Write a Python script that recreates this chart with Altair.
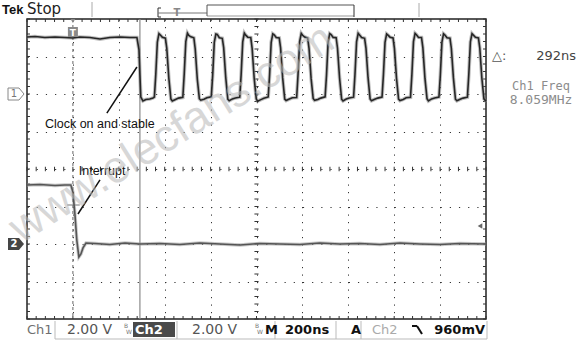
import altair as alt
import pandas as pd

# ---------------- scope settings ----------------
NS_PER_DIV = 200          # M 200ns
V_PER_DIV = 2.0           # Ch1 2.00 V, Ch2 2.00 V
X_DOMAIN = [-200, 1800]   # trigger at t = 0, one division from the left
Y_DOMAIN = [-4, 4]        # 8 vertical divisions
CH1_POS = 2               # Ch1 ground marker (divisions)
CH2_POS = -2              # Ch2 ground marker (divisions)
cursor_t = [292]          # cursor, delta 292 ns
trigger_t = [0]
trigger_level_v = 0.96    # 960 mV on Ch2

# ---------------- Ch1: clock (time ns, volts) ----------------
ch1_t = [
    -200, -165, -122, -78, -35, 0, 30, 74, 118, 161, 205, 248, 279, 288, 292, 296, 305, 318, 335, 349,
    355, 361, 368, 375, 381, 390, 403, 409, 418, 427, 433, 447, 460,
    479, 485, 492, 499, 505, 514, 527, 533, 542, 551, 557, 571, 584,
    603, 609, 616, 623, 629, 638, 651, 657, 666, 675, 681, 695, 708,
    727, 733, 740, 747, 753, 762, 775, 781, 790, 799, 805, 819, 832,
    851, 857, 864, 871, 877, 886, 899, 905, 914, 923, 929, 943, 956,
    975, 981, 988, 995, 1001, 1010, 1023, 1029, 1038, 1047, 1053, 1067, 1080,
    1099, 1105, 1112, 1119, 1125, 1134, 1147, 1153, 1162, 1171, 1177, 1191, 1204,
    1223, 1229, 1236, 1243, 1249, 1258, 1271, 1277, 1286, 1295, 1301, 1315, 1328,
    1347, 1353, 1360, 1367, 1373, 1382, 1395, 1401, 1410, 1419, 1425, 1439, 1452,
    1471, 1477, 1484, 1491, 1497, 1506, 1519, 1525, 1534, 1543, 1549, 1563, 1576,
    1595, 1601, 1608, 1615, 1621, 1630, 1643, 1649, 1658, 1667, 1673, 1687, 1700,
    1719, 1725, 1732, 1739, 1745, 1754, 1767, 1773, 1782, 1791, 1797, 1800,
]
ch1_v = [
    3.04, 3.07, 3.01, 3.04, 3.01, 2.99, 3.04, 3.01, 2.93, 3.01, 3.04, 3.01, 3.01, 2.35, 1.01, -0.16, -0.37, -0.29, -0.27, -0.21,
    -0.16, 1.01, 2.77, 3.22, 3.15, 3.02, 2.98, 2.45, 0.85, -0.27, -0.37, -0.29, -0.22,
    -0.18, 1.05, 2.80, 3.24, 3.12, 3.05, 3.00, 2.40, 0.80, -0.25, -0.33, -0.28, -0.20,
    -0.15, 0.98, 2.75, 3.20, 3.18, 3.00, 2.97, 2.47, 0.88, -0.28, -0.36, -0.26, -0.21,
    -0.17, 1.02, 2.78, 3.25, 3.14, 3.03, 3.01, 2.43, 0.83, -0.26, -0.38, -0.30, -0.23,
    -0.16, 1.00, 2.76, 3.21, 3.16, 3.01, 2.99, 2.46, 0.86, -0.27, -0.35, -0.27, -0.20,
    -0.19, 1.04, 2.79, 3.23, 3.13, 3.04, 2.98, 2.42, 0.82, -0.24, -0.34, -0.29, -0.22,
    -0.15, 0.99, 2.77, 3.22, 3.17, 3.02, 3.00, 2.44, 0.84, -0.28, -0.37, -0.27, -0.21,
    -0.17, 1.03, 2.78, 3.24, 3.15, 3.01, 2.97, 2.45, 0.87, -0.26, -0.36, -0.28, -0.22,
    -0.16, 1.01, 2.76, 3.20, 3.14, 3.03, 2.99, 2.43, 0.85, -0.27, -0.35, -0.29, -0.20,
    -0.18, 1.02, 2.79, 3.23, 3.16, 3.02, 3.01, 2.46, 0.83, -0.25, -0.37, -0.26, -0.21,
    -0.16, 1.00, 2.77, 3.21, 3.15, 3.00, 2.98, 2.44, 0.86, -0.28, -0.36, -0.28, -0.22,
    -0.17, 1.03, 2.78, 3.22, 3.14, 3.02, 2.99, 2.45, 0.84, -0.26, -0.35, -0.32,
]

# ---------------- Ch2: interrupt (time ns, volts) ----------------
ch2_t = [-200, -144, -78, -35, -9, 0, 9, 17, 26, 35, 44, 57, 96, 161, 227, 292, 379, 466,
         553, 640, 728, 815, 902, 989, 1076, 1163, 1250, 1338, 1425, 1512, 1599, 1686, 1800]
ch2_v = [3.15, 3.17, 3.12, 3.15, 3.15, 2.77, 1.55, 0.21, -0.69, -0.53, -0.21, 0.05, 0.03, -0.03, 0.05, 0.00, 0.03, -0.03,
         0.05, 0.00, -0.05, 0.03, 0.00, -0.03, 0.05, 0.00, 0.03, -0.03, 0.05, 0.00, -0.03, 0.03, 0.00]

# annotations (data coordinates: ns, divisions)
note_t = [-122, 26]
note_d = [1.09, -0.16]
note_text = ["Clock on and stable", "Interrupt"]
arrow_t = [148, 22]
arrow_t2 = [279, 118]
arrow_d = [1.49, -1.20]
arrow_d2 = [2.72, -0.29]

# ---------------- tables ----------------
ch1 = pd.DataFrame({"t": ch1_t, "v": ch1_v})
ch1["d"] = CH1_POS + ch1["v"] / V_PER_DIV
ch2 = pd.DataFrame({"t": ch2_t, "v": ch2_v})
ch2["d"] = CH2_POS + ch2["v"] / V_PER_DIV

grid_x = [X_DOMAIN[0] + NS_PER_DIV * k for k in range(1, 10)]
grid_y = [-3, -2, -1, 0, 1, 2, 3]
minor_x = [X_DOMAIN[0] + NS_PER_DIV * 0.2 * i for i in range(51)]
minor_y = [round(-4 + 0.2 * i, 2) for i in range(41)]

rows = []
for x in minor_x:
    rows += [(x, x, 4, 3.92), (x, x, -4, -3.92), (x, x, -0.06, 0.06)]
for y in minor_y:
    rows += [(-200, -187, y, y), (1800, 1787, y, y), (791, 809, y, y)]
ticks = pd.DataFrame(rows, columns=["t", "t2", "d", "d2"])

xs = alt.Scale(domain=X_DOMAIN, nice=False, zero=False)
ys = alt.Scale(domain=Y_DOMAIN, nice=False, zero=False)
x_axis = alt.Axis(values=grid_x, grid=True, gridDash=[1.2, 6.3], gridColor="#333333", gridWidth=1,
                  ticks=False, labels=False, domain=False, title=None)
y_axis = alt.Axis(values=grid_y, grid=True, gridDash=[1.2, 7.98], gridColor="#333333", gridWidth=1,
                  ticks=False, labels=False, domain=False, title=None)


def X(f):
    return alt.X(f + ":Q", scale=xs, axis=x_axis)


def Y(f):
    return alt.Y(f + ":Q", scale=ys, axis=y_axis)


one = pd.DataFrame({"k": [0]})


def ui_text(txt, x, y, size=13, color="#222", weight="normal", font="DejaVu Sans", align="left",
            baseline="alphabetic"):
    return alt.Chart(one).mark_text(text=txt, fontSize=size, color=color, fontWeight=weight, font=font,
                                    align=align, baseline=baseline).encode(x=alt.value(x), y=alt.value(y))


def ui_rule(x1, y1, x2, y2, color="#666", w=1.0):
    return alt.Chart(one).mark_rule(color=color, strokeWidth=w).encode(
        x=alt.value(x1), y=alt.value(y1), x2=alt.value(x2), y2=alt.value(y2))


def ui_rect(x1, y1, x2, y2, fill):
    return alt.Chart(one).mark_rect(color=fill).encode(
        x=alt.value(x1), y=alt.value(y1), x2=alt.value(x2), y2=alt.value(y2))


layers = []

# graticule ticks
layers.append(alt.Chart(ticks).mark_rule(color="#333333", strokeWidth=1).encode(
    x=X("t"), x2="t2", y=Y("d"), y2="d2"))

# trigger (dashed) and cursor lines
layers.append(alt.Chart(pd.DataFrame({"t": trigger_t})).mark_rule(
    color="#666666", strokeDash=[3, 3], strokeWidth=1).encode(x=X("t")))
layers.append(alt.Chart(pd.DataFrame({"t": cursor_t})).mark_rule(
    color="#8a8a8a", strokeWidth=1.2).encode(x=X("t")))

# trigger cross on Ch2
layers.append(alt.Chart(pd.DataFrame({"t": [-25], "t2": [30], "d": [-0.96]})).mark_rule(
    color="#777777", strokeWidth=1).encode(x=X("t"), x2="t2", y=Y("d")))

# traces
layers.append(alt.Chart(ch2).mark_line(color="#9a9a9a", strokeWidth=3.4, opacity=0.55).encode(x=X("t"), y=Y("d")))
layers.append(alt.Chart(ch2).mark_line(color="#555555", strokeWidth=1.6).encode(x=X("t"), y=Y("d")))
layers.append(alt.Chart(ch1).mark_line(color="#8a8a8a", strokeWidth=3.6, opacity=0.55).encode(x=X("t"), y=Y("d")))
layers.append(alt.Chart(ch1).mark_line(color="#262626", strokeWidth=1.6).encode(x=X("t"), y=Y("d")))

# annotations
notes = pd.DataFrame({"t": note_t, "d": note_d, "label": note_text})
layers.append(alt.Chart(notes).mark_text(align="left", baseline="alphabetic", font="Liberation Sans",
                                         fontSize=12.5, color="#111111").encode(x=X("t"), y=Y("d"), text="label:N"))
arrows = pd.DataFrame({"t": arrow_t, "t2": arrow_t2, "d": arrow_d, "d2": arrow_d2})
layers.append(alt.Chart(arrows).mark_rule(color="#111111", strokeWidth=1.5).encode(
    x=X("t"), x2="t2", y=Y("d"), y2="d2"))

# channel ground markers (pentagon flags left of the graticule)
H = 0.16  # half height of the flag in divisions (6 px)
ch1_flag = pd.DataFrame({
    "x1": [-19, -19, -19, -8, -8], "x2": [-8, -8, -19, -3, -3],
    "d": [CH1_POS + H, CH1_POS - H, CH1_POS - H, CH1_POS + H, CH1_POS - H],
    "d2": [CH1_POS + H, CH1_POS - H, CH1_POS + H, CH1_POS, CH1_POS],
})
for i in range(len(ch1_flag)):
    r = ch1_flag.iloc[[i]]
    layers.append(alt.Chart(r).mark_rule(color="#888888", strokeWidth=1).encode(
        x=alt.value(float(r["x1"].iloc[0])), x2=alt.value(float(r["x2"].iloc[0])), y=Y("d"), y2="d2"))
layers.append(alt.Chart(pd.DataFrame({"d": [CH1_POS]})).mark_text(
    text="1", fontSize=10, color="#777777", font="DejaVu Sans", baseline="middle", align="center").encode(
    x=alt.value(-13), y=Y("d")))

layers.append(alt.Chart(pd.DataFrame({"d": [CH2_POS + H], "d2": [CH2_POS - H]})).mark_rect(
    color="#454545").encode(x=alt.value(-19), x2=alt.value(-8), y=Y("d"), y2="d2"))
layers.append(alt.Chart(pd.DataFrame({"d": [CH2_POS]})).mark_point(
    shape="M-0.42,-1L0.42,0L-0.42,1Z", size=144, filled=True, color="#454545", opacity=1).encode(
    x=alt.value(-5.5), y=Y("d")))
layers.append(alt.Chart(pd.DataFrame({"d": [CH2_POS]})).mark_text(
    text="2", fontSize=10, color="white", fontWeight="bold", font="DejaVu Sans", baseline="middle",
    align="center").encode(x=alt.value(-13), y=Y("d")))

# trigger level arrow on the right
layers.append(alt.Chart(pd.DataFrame({"d": [CH2_POS + trigger_level_v / V_PER_DIV]})).mark_point(
    shape="triangle-left", size=28, filled=True, color="#666666", opacity=1).encode(x=alt.value(453), y=Y("d")))

# trigger position "T" marker at the top
layers.append(alt.Chart(pd.DataFrame({"t": trigger_t})).mark_point(
    shape="triangle-down", size=22, filled=True, color="#8a8a8a", opacity=1).encode(x=X("t"), y=alt.value(2)))
layers.append(alt.Chart(pd.DataFrame({"t": trigger_t})).mark_point(
    shape="square", size=100, filled=True, color="#8a8a8a", opacity=1).encode(x=X("t"), y=alt.value(13)))
layers.append(alt.Chart(pd.DataFrame({"t": trigger_t})).mark_text(
    text="T", fontSize=9, fontWeight="bold", color="white", baseline="middle", font="DejaVu Sans").encode(
    x=X("t"), y=alt.value(13.5)))

# watermark
layers.append(alt.Chart(pd.DataFrame({"t": [430], "d": [0.95]})).mark_text(
    text="www.elecfans.com", font="Liberation Sans", fontSize=45, angle=328, color="#b8b8b8", opacity=0.55,
    align="center", baseline="middle").encode(x=X("t"), y=Y("d")))

# ---- top status bar ----
layers.append(ui_text("Tek", -25, -5, size=13, weight="bold", font="Liberation Sans", color="#111"))
layers.append(ui_text("Stop", 0, -5, size=15, color="#222"))
layers.append(ui_rule(65, -17, 65, -2, color="#aaaaaa"))
layers.append(ui_rule(131, -11, 131, -2, color="#333333"))
layers.append(ui_rule(131, -11, 134, -11, color="#333333"))
layers.append(ui_rule(131, -2, 134, -2, color="#333333"))
layers.append(ui_rule(131, -6, 180, -6, color="#777777"))
layers.append(ui_rule(180, -14, 327, -14, color="#555555"))
layers.append(ui_rule(180, -3, 327, -3, color="#999999"))
layers.append(ui_rule(180, -14, 180, -3, color="#555555"))
layers.append(ui_rule(327, -14, 327, -2, color="#333333"))
layers.append(ui_rule(392, -16, 392, -2, color="#aaaaaa"))
layers.append(ui_text("T", 150, -3, size=10, weight="bold", color="#888888", align="center"))

# ---- right readouts ----
layers.append(ui_text("\u25b3:", 465, 41, size=13, color="#555555"))
layers.append(ui_text("292ns", 549, 41, size=13, color="#444444", align="right"))
layers.append(ui_text("Ch1 Freq", 514, 71, size=12, color="#8c8c8c", font="DejaVu Sans Mono", align="center"))
layers.append(ui_text("8.059MHz", 514, 85, size=13, color="#8c8c8c", font="DejaVu Sans Mono", align="center"))

# ---- bottom status bar ----
for xv in [28, 150, 248, 309, 334, 460]:
    layers.append(ui_rule(xv, 302, xv, 320, color="#bbbbbb"))
layers.append(ui_rule(28, 320, 460, 320, color="#bbbbbb"))
layers.append(ui_text("Ch1", 0, 315, size=13, color="#6f6f6f"))
layers.append(ui_text("2.00 V", 40, 315, size=14, color="#555555"))
layers.append(ui_text("B", 97, 309, size=6, color="#777777"))
layers.append(ui_text("W", 99, 315, size=6, color="#777777"))
layers.append(ui_rect(106, 303, 148, 318, "#4a4a4a"))
layers.append(ui_text("Ch2", 108, 315, size=13, color="white", weight="bold"))
layers.append(ui_text("2.00 V", 165, 315, size=14, color="#555555"))
layers.append(ui_text("B", 228, 309, size=6, color="#777777"))
layers.append(ui_text("W", 230, 315, size=6, color="#777777"))
layers.append(ui_text("M", 238, 315, size=13, color="#111111", weight="bold"))
layers.append(ui_text("200ns", 258, 315, size=13, color="#111111", weight="bold"))
layers.append(ui_text("A", 324, 315, size=13, color="#111111", weight="bold"))
layers.append(ui_text("Ch2", 345, 315, size=13, color="#aaaaaa"))
layers.append(ui_rule(385, 307, 390, 307, color="#111111", w=2))
layers.append(ui_rule(390, 307, 395, 315, color="#111111", w=2))
layers.append(ui_text("960mV", 458, 315, size=13, color="#111111", weight="bold", align="right"))

chart = alt.layer(*layers).properties(
    width=459, height=300,
    autosize="none",
    padding={"left": 27, "top": 19, "right": 100, "bottom": 22},
    background="white",
).configure_view(stroke="#222222", strokeWidth=1.5)

chart.save("out.html", embed_options={"renderer": "svg", "actions": False})
